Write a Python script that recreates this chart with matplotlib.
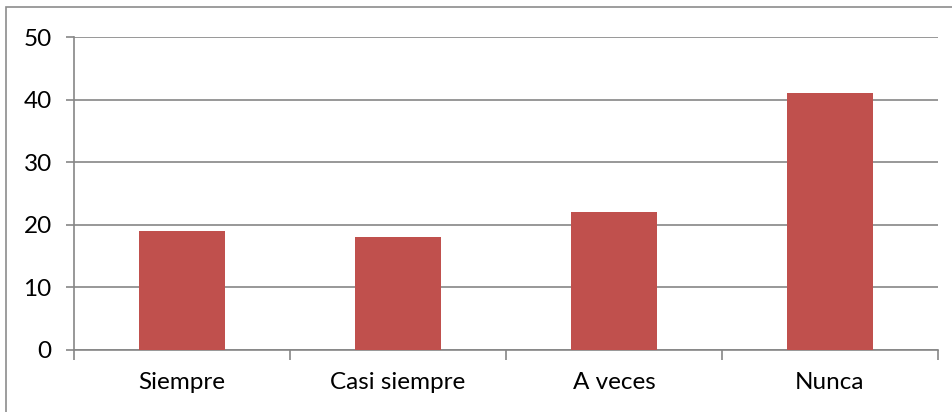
import matplotlib
matplotlib.use("Agg")
import matplotlib.pyplot as plt
from matplotlib.patches import Rectangle

categories = ["Siempre", "Casi siempre", "A veces", "Nunca"]
values = [19, 18, 22, 41]
yticks = [0, 10, 20, 30, 40, 50]

plt.rcParams['font.family'] = ['Lato', 'DejaVu Sans']

W, H = 953, 412
fig = plt.figure(figsize=(W / 100, H / 100), dpi=100)
ax = fig.add_axes([74 / W, 1 - 350 / H, (938 - 74) / W, (350 - 37) / H])

grid_c = "#868686"
x = list(range(len(categories)))
ax.bar(x, values, width=0.4, color="#C0504D", zorder=3)
ax.set_xlim(-0.5, len(categories) - 0.5)
ax.set_ylim(0, 50)
ax.set_yticks(yticks)
ax.set_yticklabels([str(v) for v in yticks])
ax.yaxis.grid(True, color=grid_c, linewidth=1.2, zorder=0)
ax.set_axisbelow(True)

# category labels at centres, tick marks at boundaries
ax.set_xticks(x)
ax.set_xticklabels(categories)
ax.tick_params(axis='x', which='major', length=0, pad=16, labelsize=17.5)
ax.set_xticks([i - 0.5 for i in range(len(categories) + 1)], minor=True)
ax.tick_params(axis='x', which='minor', length=7, width=1.2, color=grid_c, direction='out')
ax.tick_params(axis='y', length=6, width=1.2, color=grid_c, pad=10, labelsize=17.5)

for s in ['top', 'right']:
    ax.spines[s].set_visible(False)
for s in ['left', 'bottom']:
    ax.spines[s].set_color(grid_c)
    ax.spines[s].set_linewidth(1.2)

# outer chart border (top and left visible)
fig.patches.append(Rectangle((6 / W, -0.1), 1.2, 1 - 7 / H + 0.1,
                             transform=fig.transFigure, fill=False,
                             edgecolor="#8C8C8C", linewidth=1.2))

fig.savefig("out.png", dpi=100)
